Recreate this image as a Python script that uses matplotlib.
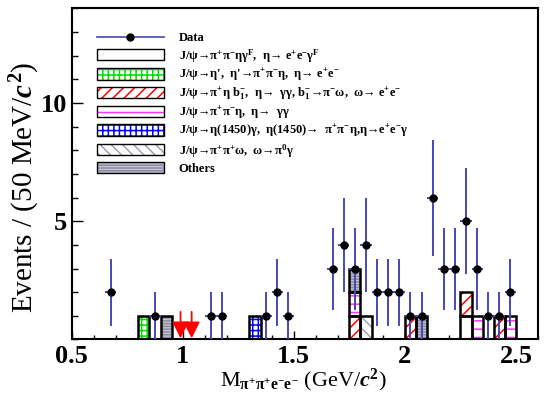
import numpy as np
import matplotlib.pyplot as plt
from matplotlib.patches import Patch
from matplotlib.lines import Line2D
from matplotlib.ticker import MultipleLocator

plt.rcParams['font.family'] = ['Liberation Serif', 'DejaVu Serif']
plt.rcParams['font.weight'] = 'bold'
plt.rcParams['mathtext.fontset'] = 'custom'
plt.rcParams['mathtext.rm'] = 'Liberation Serif:bold'
plt.rcParams['mathtext.bf'] = 'Liberation Serif:bold'
plt.rcParams['mathtext.it'] = 'Liberation Serif:italic'
plt.rcParams['mathtext.default'] = 'bf'
plt.rcParams['hatch.linewidth'] = 1.1

# data points (bin centres, counts)
data_x = [0.675, 0.875, 1.125, 1.175, 1.375, 1.425, 1.475, 1.675, 1.725, 1.775,
          1.825, 1.875, 1.925, 1.975, 2.025, 2.075, 2.125, 2.175, 2.225, 2.275,
          2.325, 2.375, 2.425, 2.475]
data_n = [2, 1, 1, 1, 1, 2, 1, 3, 4, 3, 4, 2, 2, 2, 1, 1, 6, 3, 3, 5, 3, 1, 1, 2]

# MC entries for each background component (one entry per event)
mc_gamma_f = [2.275]
mc_etap = [0.825]
mc_b1 = [1.775, 2.025, 2.275, 2.425]
mc_eta_gg = [1.775, 2.325, 2.475]
mc_eta1450 = [1.325]
mc_omega = [1.825]
mc_others = [0.925, 1.775, 2.075]

# cut positions (red arrows)
cut_x = [0.99, 1.04]

labels = [
    'Data',
    'J/ψ→π$^{+}$π$^{-}$ηγ$^{F}$,  η→ e$^{+}$e$^{-}$γ$^{F}$',
    "J/ψ→η',  η'→π$^{+}$π$^{-}$η,  η→ e$^{+}$e$^{-}$",
    'J/ψ→π$^{+}$η b$_{1}^{-}$,  η→  γγ, b$_{1}^{-}$→π$^{-}$ω,  ω→ e$^{+}$e$^{-}$',
    'J/ψ→π$^{+}$π$^{-}$η,  η→  γγ',
    'J/ψ→η(1450)γ,  η(1450)→  π$^{+}$π$^{-}$η,η→e$^{+}$e$^{-}$γ',
    'J/ψ→π$^{+}$π$^{+}$ω,  ω→π$^{0}$γ',
    'Others',
]

components = [mc_gamma_f, mc_etap, mc_b1, mc_eta_gg, mc_eta1450, mc_omega, mc_others]
# (facecolor, hatch, hatch colour)
styles = [
    ('white', '', 'black'),
    ('white', '+++', '#00dd00'),
    ('white', '///', 'red'),
    ('white', '--', '#ff33ff'),
    ('white', '+++', 'blue'),
    ('white', '\\\\\\', '#a0a0b8'),
    ('#c4c4d4', '------', '#8c8ca4'),
]

fig = plt.figure(figsize=(5.47, 3.96), dpi=100)
ax = fig.add_axes([0.131, 0.1427, 0.853, 0.836])

edges = np.linspace(0.5, 2.6, 43)
centers = 0.5 * (edges[1:] + edges[:-1])
width = edges[1] - edges[0]

bottom = np.zeros(len(centers))
for entries, (fc, hatch, hc) in zip(components, styles):
    counts, _ = np.histogram(entries, bins=edges)
    m = counts > 0
    ax.bar(centers[m], counts[m], width=width, bottom=bottom[m], facecolor=fc,
           edgecolor=hc, hatch=hatch, linewidth=0, zorder=2)
    ax.bar(centers[m], counts[m], width=width, bottom=bottom[m], fill=False,
           edgecolor='black', linewidth=1.8, zorder=3)
    bottom += counts

ax.errorbar(data_x, data_n, yerr=np.sqrt(data_n), xerr=width / 2, fmt='o',
            color='black', ms=5, ecolor='#4848b0', elinewidth=1.4, capsize=0, zorder=5)

for x in cut_x:
    ax.annotate('', xy=(x, 0.05), xytext=(x, 1.17),
                arrowprops=dict(arrowstyle='-|>,head_width=0.25,head_length=0.5',
                                color='red', lw=1.3, shrinkA=0, shrinkB=0,
                                mutation_scale=20), zorder=4)

ax.set_xlim(0.5, 2.6)
ax.set_ylim(0, 14)
ax.set_xticks([0.5, 1, 1.5, 2, 2.5])
ax.set_xticklabels(['0.5', '1', '1.5', '2', '2.5'])
ax.xaxis.set_minor_locator(MultipleLocator(0.1))
ax.set_yticks([5, 10])
ax.yaxis.set_minor_locator(MultipleLocator(1))
ax.tick_params(which='both', direction='in', top=False, right=False, labelsize=19)
ax.tick_params(axis='x', which='major', length=6, width=1)
ax.tick_params(axis='x', which='minor', length=3, width=1)
ax.tick_params(axis='y', which='major', length=8, width=1)
ax.tick_params(axis='y', which='minor', length=4.3, width=1)
ax.tick_params(axis='x', pad=4)
for s in ax.spines.values():
    s.set_linewidth(1.5)

ax.set_ylabel('Events / (50 MeV/$\\mathit{c}^{2}$)', fontsize=21)
ax.set_xlabel('M$_{π^{+}π^{+}e^{-}e^{-}}$ (GeV/$\\mathit{c}^{2}$)', fontsize=16)
ax.yaxis.set_label_coords(-0.063, 0.46)
ax.xaxis.set_label_coords(0.496, -0.082)

handles = [Line2D([], [], color='#4848b0', lw=1.2, marker='o', ms=5,
                  mfc='black', mec='black')]
for fc, hatch, hc in styles:
    handles.append((Patch(facecolor=fc, edgecolor=hc, hatch=hatch, linewidth=0),
                    Patch(fill=False, edgecolor='black', linewidth=1.0)))
ax.legend(handles, labels, loc='upper left', bbox_to_anchor=(0.055, 0.93),
          frameon=False, fontsize=9, handlelength=5.3, handleheight=1.0,
          handletextpad=1.2, labelspacing=0.2, borderpad=0, borderaxespad=0)

fig.savefig('out.png', dpi=100)
